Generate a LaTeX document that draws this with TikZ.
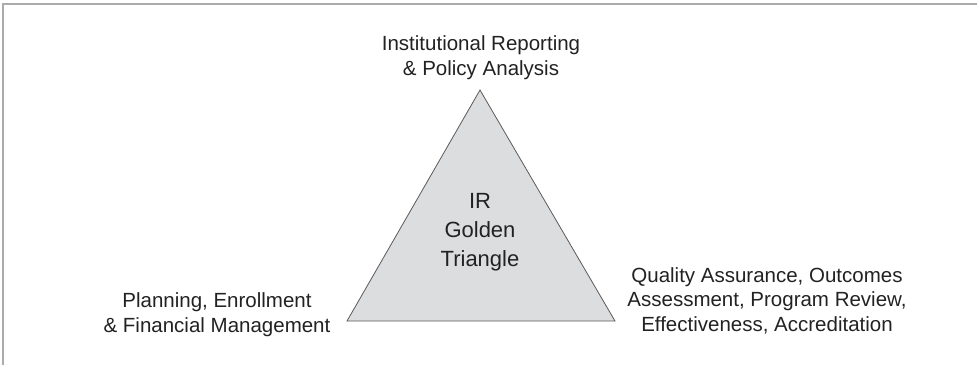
\documentclass[tikz,border=0pt]{standalone}
\usepackage{fontspec}
\setmainfont{Liberation Sans}
\definecolor{framegray}{HTML}{ABABAB}
\definecolor{trifill}{HTML}{DCDDDF}
\definecolor{triedge}{HTML}{5A5A5A}
\definecolor{inkgray}{HTML}{222222}
\begin{document}
\begin{tikzpicture}[x=1pt, y=-1pt,
  font=\fontsize{20.5}{24.5}\selectfont,
  lbl/.style={align=center, anchor=base, inner sep=0pt, text=inkgray},
  ]
  \useasboundingbox (0,0) rectangle (977,365);

  %%% page frame (top and left edges) %%%
  \draw[framegray, line width=1.5pt] (3,365) -- (3,4) -- (977,4);

  %%% golden triangle %%%
  \coordinate (apex) at (480,90);
  \coordinate (lowleft) at (347,321);
  \coordinate (lowright) at (615,321);
  \filldraw[fill=trifill, draw=triedge, line width=0.8pt]
    (apex) -- (lowright) -- (lowleft) -- cycle;
  \node[lbl, font=\fontsize{22}{29}\selectfont] (core) at (480,266)
    {IR\\Golden\\Triangle};

  %%% corner labels (anchored on last baseline) %%%
  \node[lbl] (reporting) at (481,75)
    {Institutional Reporting\\\& Policy Analysis};
  \node[lbl] (planning) at (217,332)
    {Planning, Enrollment\\\& Financial Management};
  \node[lbl] (quality) at (767,331)
    {Quality Assurance, Outcomes\\Assessment, Program Review,\\Effectiveness, Accreditation};
\end{tikzpicture}
\end{document}
